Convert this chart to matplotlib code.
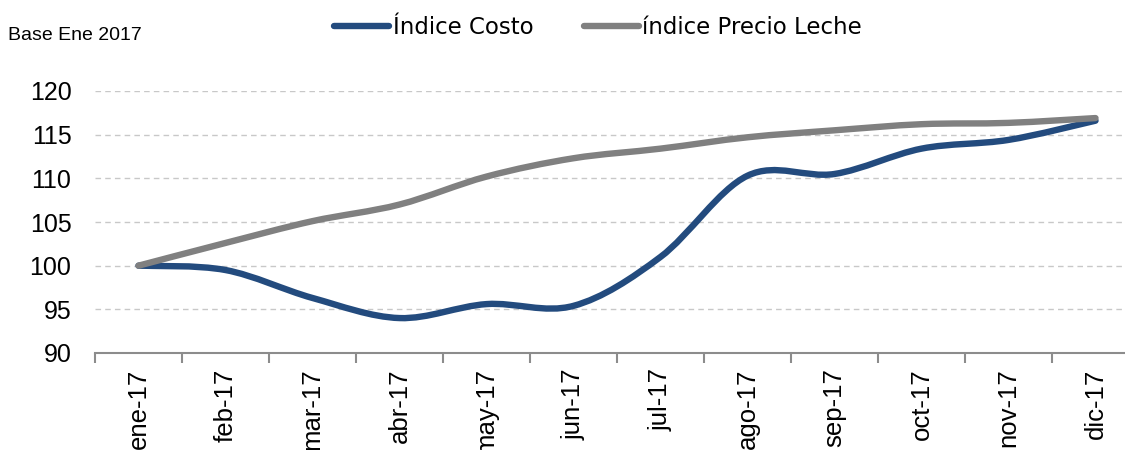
import matplotlib

matplotlib.use("Agg")
import matplotlib.pyplot as plt
from matplotlib.lines import Line2D
from matplotlib.patches import PathPatch
from matplotlib.path import Path

months = ["ene-17", "feb-17", "mar-17", "abr-17", "may-17", "jun-17",
          "jul-17", "ago-17", "sep-17", "oct-17", "nov-17", "dic-17"]
indice_costo = [100.0, 99.5, 96.3, 94.0, 95.6, 95.4, 101.0, 110.3, 110.5, 113.4, 114.4, 116.6]
precio_leche = [100.0, 102.6, 105.1, 107.0, 110.2, 112.3, 113.4, 114.7, 115.5, 116.2, 116.35, 116.9]

COLOR_COSTO = "#234b7e"
COLOR_LECHE = "#808080"


def smooth_path(values):
    # Excel-style smoothed line: cubic bezier segments through every point
    pts = list(enumerate(values))
    verts = [pts[0]]
    codes = [Path.MOVETO]
    n = len(pts)
    for i in range(n - 1):
        p0 = pts[max(i - 1, 0)]
        p1 = pts[i]
        p2 = pts[i + 1]
        p3 = pts[min(i + 2, n - 1)]
        c1 = (p1[0] + (p2[0] - p0[0]) / 6, p1[1] + (p2[1] - p0[1]) / 6)
        c2 = (p2[0] - (p3[0] - p1[0]) / 6, p2[1] - (p3[1] - p1[1]) / 6)
        verts += [c1, c2, p2]
        codes += [Path.CURVE4] * 3
    return Path(verts, codes)


plt.rcParams["font.family"] = ["Liberation Sans", "DejaVu Sans"]

fig = plt.figure(figsize=(11.25, 4.5), dpi=100, facecolor="white")
ax = fig.add_axes([95 / 1125, 97 / 450, 1044 / 1125, 262 / 450])

for values, color in [(indice_costo, COLOR_COSTO), (precio_leche, COLOR_LECHE)]:
    ax.add_patch(PathPatch(smooth_path(values), fill=False, edgecolor=color,
                           linewidth=4.6, capstyle="round", joinstyle="round", zorder=3))

ax.set_xlim(-0.5, len(months) - 0.5)
ax.set_ylim(90, 120)
ax.set_yticks(range(90, 121, 5))
ax.set_yticklabels([str(v) for v in range(90, 121, 5)], fontsize=18)
ax.yaxis.grid(True, color="#c8c8c8", linestyle=(0, (4, 3)), linewidth=1.0)
ax.set_axisbelow(True)
ax.tick_params(axis="y", length=0, pad=17)

ax.set_xticks(range(len(months)))
ax.set_xticklabels(months, rotation=90, fontsize=18.5)
ax.set_xticks([i - 0.5 for i in range(len(months) + 1)], minor=True)
ax.tick_params(axis="x", which="major", length=0, pad=11)
ax.tick_params(axis="x", which="minor", length=7, width=1.5, color="#8c8c8c", direction="out")

for side in ["top", "right", "left"]:
    ax.spines[side].set_visible(False)
ax.spines["bottom"].set_color("#8c8c8c")
ax.spines["bottom"].set_linewidth(1.5)

handles = [Line2D([], [], color=COLOR_COSTO, linewidth=4.6, solid_capstyle="round"),
           Line2D([], [], color=COLOR_LECHE, linewidth=4.6, solid_capstyle="round")]
fig.legend(handles, ["Índice Costo", "índice Precio Leche"], loc="center",
           bbox_to_anchor=(598 / 1125, 1 - 28 / 450), ncol=2, frameon=False,
           prop={"family": "DejaVu Sans", "size": 16.5},
           handlelength=2.4, handletextpad=0.15, columnspacing=2.2)

fig.text(8 / 1125, 1 - 35 / 450, "Base Ene 2017", fontsize=14, ha="left", va="center")

fig.savefig("out.png", dpi=100)
